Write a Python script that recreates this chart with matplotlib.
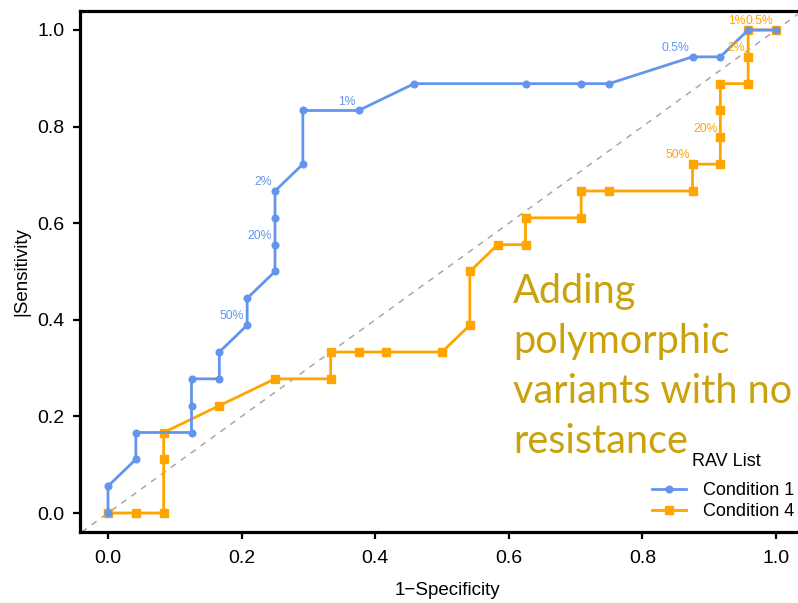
import matplotlib
matplotlib.use("Agg")
import matplotlib.pyplot as plt

# Data (1-Specificity, Sensitivity)
c1_x = [0, 0, 1/24, 1/24, 3/24, 3/24, 3/24, 4/24, 4/24, 5/24, 5/24, 6/24, 6/24, 6/24, 6/24,
        7/24, 7/24, 9/24, 11/24, 15/24, 17/24, 18/24, 21/24, 22/24, 23/24, 1]
c1_y = [0, 1/18, 2/18, 3/18, 3/18, 4/18, 5/18, 5/18, 6/18, 7/18, 8/18, 9/18, 10/18, 11/18, 12/18,
        13/18, 15/18, 15/18, 16/18, 16/18, 16/18, 16/18, 17/18, 17/18, 1, 1]

c4_x = [0, 1/24, 2/24, 2/24, 2/24, 4/24, 6/24, 8/24, 8/24, 9/24, 10/24, 12/24, 13/24, 13/24,
        14/24, 15/24, 15/24, 17/24, 17/24, 18/24, 21/24, 21/24, 22/24, 22/24, 22/24, 22/24,
        23/24, 23/24, 23/24, 1]
c4_y = [0, 0, 0, 2/18, 3/18, 4/18, 5/18, 5/18, 6/18, 6/18, 6/18, 6/18, 7/18, 9/18,
        10/18, 10/18, 11/18, 11/18, 12/18, 12/18, 12/18, 13/18, 13/18, 14/18, 15/18, 16/18,
        16/18, 17/18, 1, 1]

c1_labels = [("50%", 5/24, 7/18), ("20%", 6/24, 10/18), ("2%", 6/24, 12/18),
             ("1%", 9/24, 15/18), ("0.5%", 21/24, 17/18)]
c4_labels = [("50%", 21/24, 13/18), ("20%", 22/24, 14/18), ("2%", 23/24, 17/18),
             ("1%", 23/24, 1.0), ("0.5%", 1.0, 1.0)]

ticks = [0, 0.2, 0.4, 0.6, 0.8, 1.0]
tick_labels = ["0.0", "0.2", "0.4", "0.6", "0.8", "1.0"]

blue = "#6495ED"
orange = "#FFA500"
gold = "#C9A20E"

plt.rcParams['font.family'] = ['Liberation Sans', 'DejaVu Sans']

W, H = 798, 603
fig = plt.figure(figsize=(W / 100, H / 100), dpi=100)
ax = fig.add_axes([80 / W, 71 / H, 735 / W, 521 / H])

ax.axline((0, 0), (1, 1), color="#A8A8A8", lw=1.1, ls=(0, (4, 4)), zorder=1)
ax.plot(c1_x, c1_y, color=blue, lw=2, marker="o", ms=4.8, label="Condition 1", zorder=3)
ax.plot(c4_x, c4_y, color=orange, lw=2, marker="s", ms=6, label="Condition 4", zorder=2)

for t, x, y in c1_labels:
    ax.annotate(t, (x, y), xytext=(-2, 2), textcoords="offset points",
                ha="right", va="bottom", fontsize=8.8, color=blue)
for t, x, y in c4_labels:
    ax.annotate(t, (x, y), xytext=(-2, 2), textcoords="offset points",
                ha="right", va="bottom", fontsize=8.8, color=orange)

ax.set_xlim((80 - 108) / 668, (815 - 108) / 668)
ax.set_ylim(-(532 - 513) / 483, (513 - 11) / 483)
ax.set_xticks(ticks)
ax.set_yticks(ticks)
ax.set_xticklabels(tick_labels)
ax.set_yticklabels(tick_labels)
ax.tick_params(axis="both", labelsize=14, width=1.6, length=5, direction="out", pad=6)
ax.tick_params(axis="x", pad=8)
for s in ax.spines.values():
    s.set_linewidth(2.3)

ax.set_xlabel("1\u2212Specificity", fontsize=13.5, labelpad=11)
ax.set_ylabel("|Sensitivity", fontsize=13.5, labelpad=5)

fig.text(513 / W, 1 - 273 / H, "Adding\npolymorphic\nvariants with no\nresistance",
         color=gold, fontsize=28.5, family="Lato", ha="left", va="top", linespacing=1.43)

fig.text(692 / W, 1 - 461 / H, "RAV List", fontsize=13, ha="left", va="center")
leg = ax.legend(loc="upper left", bbox_to_anchor=(652 / W, 1 - 482 / H),
                bbox_transform=fig.transFigure, frameon=False, fontsize=13,
                handlelength=1.9, handletextpad=0.9, borderpad=0, borderaxespad=0,
                labelspacing=0.22)

fig.savefig("out.png", dpi=100)
